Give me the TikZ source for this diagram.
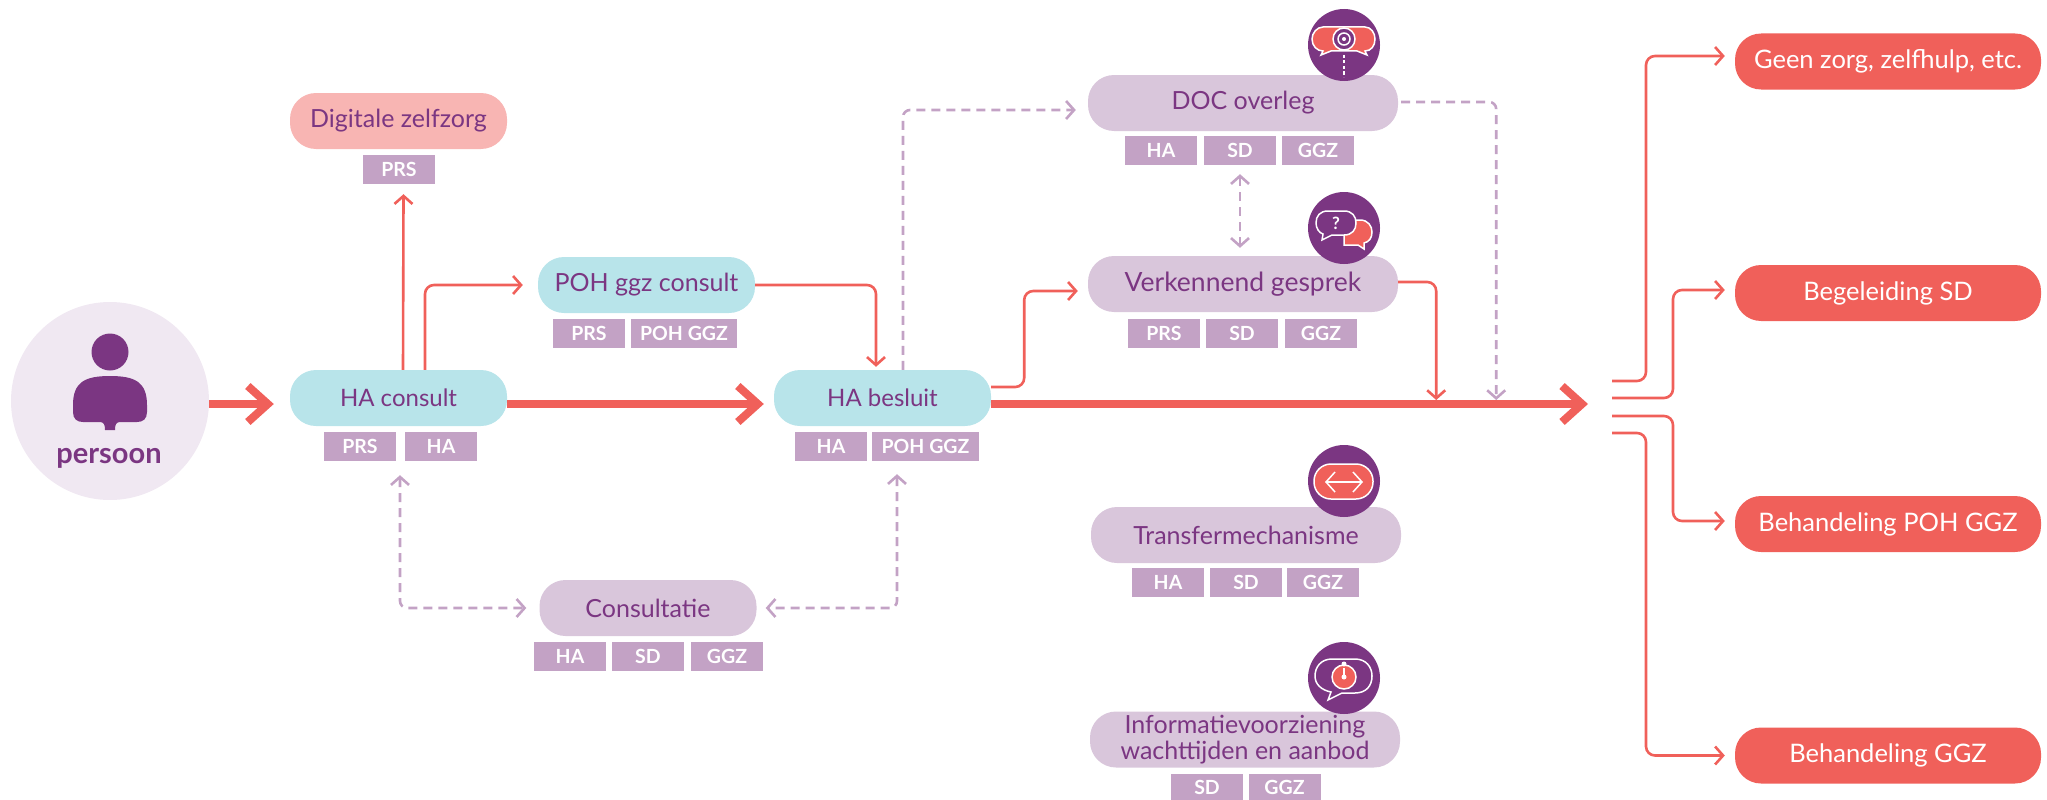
\documentclass[tikz,border=0pt]{standalone}
\usepackage{fontspec}
\setmainfont{Lato}
\usetikzlibrary{arrows.meta}
\definecolor{coral}{HTML}{F0605A}
\definecolor{plum}{HTML}{7B3682}
\definecolor{tagc}{HTML}{C3A2C5}
\definecolor{lilac}{HTML}{D9C6DB}
\definecolor{teal1}{HTML}{B8E4EA}
\definecolor{pale}{HTML}{F0E8F2}
\definecolor{pink1}{HTML}{F8B5B3}
\tikzset{
  pill/.style={rectangle,rounded corners=26pt,inner sep=0pt,text=plum,align=center,font=\fontsize{25}{26}\selectfont},
  pillA/.style={pill,minimum width=217pt,minimum height=56pt},
  pillB/.style={pill,minimum width=310pt,minimum height=56pt,fill=lilac},
  endpill/.style={rectangle,rounded corners=26pt,inner sep=0pt,fill=coral,text=white,minimum width=306pt,minimum height=56pt,font=\fontsize{25.5}{26}\selectfont},
  tagbox/.style={rectangle,inner sep=0pt,fill=tagc,text=white,minimum height=29pt,minimum width=72pt,font=\bfseries\fontsize{19.5}{20}\selectfont},
  badge/.style={circle,inner sep=0pt,minimum size=72pt,fill=plum},
  thickarrow/.style={coral,line width=8pt,-{Straight Barb[length=20pt,width=36pt,line width=8pt]}},
  thinarrow/.style={coral,line width=2.6pt,rounded corners=9pt,-{Straight Barb[length=8pt,width=18pt,line width=2.6pt]}},
  dasharrow/.style={tagc,line width=2.6pt,rounded corners=7pt,dash pattern=on 9pt off 6pt,-{Straight Barb[length=8pt,width=18pt,line width=2.6pt]}},
  dashboth/.style={tagc,line width=2.6pt,rounded corners=7pt,dash pattern=on 9pt off 6pt,{Straight Barb[length=8pt,width=18pt,line width=2.6pt]}-{Straight Barb[length=8pt,width=18pt,line width=2.6pt]}},
  whiteline/.style={white,line width=1.5pt},
}
\begin{document}
\begin{tikzpicture}[x=1pt,y=-1pt]
\useasboundingbox (0,0) rectangle (2047,800);
% person
\node[circle,inner sep=0pt,minimum size=198pt,fill=pale] (person) at (110,401) {};
\fill[plum] (110,352) circle[radius=18.5pt];
\fill[plum] (110,376) .. controls (135,376) and (147,382) .. (147,405)
  -- (147,412) .. controls (147,419) and (143,422) .. (137,422)
  -- (120,422) .. controls (116,422) and (115,425) .. (115,430)
  -- (105,430) .. controls (105,425) and (104,422) .. (100,422)
  -- (83,422) .. controls (77,422) and (73,419) .. (73,412)
  -- (73,405) .. controls (73,382) and (85,376) .. (110,376) -- cycle;
\node[text=plum,font=\fontsize{29}{30}\selectfont\bfseries,inner sep=0pt] (persontext) at (109,458) {persoon};
% main nodes
\node[pillA,fill=teal1] (hac) at (398.5,398) {\fontsize{24}{26}\selectfont HA consult};
\node[tagbox] (t1a) at (360,446.5) {PRS};
\node[tagbox] (t1b) at (441,446.5) {HA};
\node[pillA,fill=pink1] (dz) at (398.5,121) {Digitale zelfzorg};
\node[tagbox] (t2a) at (399,169.5) {PRS};
\node[pillA,fill=teal1] (poh) at (646.5,285) {POH ggz consult};
\node[tagbox] (t3a) at (589,333.5) {PRS};
\node[tagbox,minimum width=106pt] (t3b) at (684,333.5) {POH GGZ};
\node[pillA,fill=teal1] (hab) at (882.5,398) {\fontsize{24}{26}\selectfont HA besluit};
\node[tagbox] (t4a) at (831,446.5) {HA};
\node[tagbox,minimum width=107pt] (t4b) at (925.5,446.5) {POH GGZ};
\node[pillA,fill=lilac] (con) at (648,608) {Consultatie};
\node[tagbox] (t5a) at (570,656.5) {HA};
\node[tagbox] (t5b) at (648,656.5) {SD};
\node[tagbox] (t5c) at (727,656.5) {GGZ};
\node[pillB] (doc) at (1243,103) {DOC overleg};
\node[tagbox] (t6a) at (1161,150.5) {HA};
\node[tagbox] (t6b) at (1240,150.5) {SD};
\node[tagbox] (t6c) at (1318,150.5) {GGZ};
\node[pillB] (ver) at (1243,284) {\fontsize{26.5}{28}\selectfont Verkennend gesprek};
\node[tagbox] (t7a) at (1164,333.5) {PRS};
\node[tagbox] (t7b) at (1242,333.5) {SD};
\node[tagbox] (t7c) at (1321,333.5) {GGZ};
\node[pillB] (tra) at (1246,535) {Transfermechanisme};
\node[tagbox] (t8a) at (1168,582.5) {HA};
\node[tagbox] (t8b) at (1246,582.5) {SD};
\node[tagbox] (t8c) at (1323,582.5) {GGZ};
\node[pillB] (inf) at (1245,739.5) {Informatievoorziening\\wachttijden en aanbod};
\node[tagbox,minimum height=26pt] (t9a) at (1207,787) {SD};
\node[tagbox,minimum height=26pt] (t9b) at (1284.5,787) {GGZ};
% end nodes
\node[endpill] (e1) at (1888,61.5) {Geen zorg, zelfhulp, etc.};
\node[endpill] (e2) at (1888,293) {Begeleiding SD};
\node[endpill] (e3) at (1888,524) {Behandeling POH GGZ};
\node[endpill] (e4) at (1888,755.5) {Behandeling GGZ};
\coordinate (fan) at (1612,404);
% thick flow
\draw[thickarrow] (person.east |- 0,404) -- ([xshift=-16pt,yshift=-6pt]hac.west);
\draw[thickarrow] ([yshift=-6pt]hac.east) -- ([xshift=-10pt,yshift=-6pt]hab.west);
\draw[thickarrow] ([yshift=-6pt]hab.east) -- ([xshift=-24pt]fan);
% thin flow
\draw[thinarrow] ([xshift=4.5pt]hac.north) -- ([xshift=4.5pt,yshift=-10pt]t2a.south);
\draw[thinarrow] ([xshift=26.5pt]hac.north) |- ([xshift=-15pt]poh.west);
\draw[thinarrow] (poh.east) -| ([xshift=-6.5pt,yshift=3pt]hab.north);
\draw[thinarrow] ([yshift=11pt]hab.east) -- ++(33,0) |- ([xshift=-10pt,yshift=-7pt]ver.west);
\draw[thinarrow] ([yshift=2pt]ver.east) -| ([xshift=38pt,yshift=-2pt]ver.east |- hab.east);
\draw[dasharrow] ([xshift=20.5pt]hab.north) |- ([xshift=-12pt,yshift=-7pt]doc.west);
\draw[dasharrow] ([xshift=3pt,yshift=1pt]doc.east) -| ([xshift=98pt,yshift=-2pt]doc.east |- hab.east);
\draw[dashboth] ([yshift=-9pt]t6b.south) -- ([yshift=8pt]ver.north -| t6b.south);
\draw[dashboth] ([xshift=40pt,yshift=-14pt]t1a.south) |- ([xshift=-13pt]con.west);
\draw[dashboth] ([xshift=-28.5pt,yshift=-13pt]t4b.south) |- ([xshift=9pt]con.east);
% fan out
\draw[thinarrow] ([yshift=23pt]fan) -- ++(34,0) |- ([xshift=-10pt,yshift=5.5pt]e1.west);
\draw[thinarrow] ([yshift=6pt]fan) -- ++(61,0) |- ([xshift=-10pt,yshift=3pt]e2.west);
\draw[thinarrow] ([yshift=-12pt]fan) -- ++(61,0) |- ([xshift=-10pt,yshift=3pt]e3.west);
\draw[thinarrow] ([yshift=-29pt]fan) -- ++(34,0) |- ([xshift=-10pt]e4.west);
% badges
\node[badge] (b1) at (1344,45) {};
\draw[whiteline,fill=coral] (1323,27) -- (1365,27) .. controls (1371,27) and (1375,33) .. (1375,39)
  .. controls (1375,46) and (1371,51) .. (1365,51) -- (1367,55) -- (1357,51) -- (1331,51) -- (1321,55) -- (1323,51)
  .. controls (1317,51) and (1312,46) .. (1312,39) .. controls (1312,33) and (1317,27) .. (1323,27) -- cycle;
\draw[whiteline,fill=plum] (1344,39) circle[radius=11pt];
\draw[whiteline] (1344,39) circle[radius=6pt];
\fill[white] (1344,39) circle[radius=2pt];
\draw[white,line width=1.5pt,dash pattern=on 3pt off 2.5pt] (1344,55) -- (1344,77);
\node[badge] (b2) at (1344,228) {};
\draw[whiteline,fill=coral] (1344,220) -- (1360,220) .. controls (1368,220) and (1372,226) .. (1372,232)
  .. controls (1372,238) and (1369,242) .. (1364,243) -- (1364,249) -- (1358,245) -- (1344,245) -- cycle;
\draw[whiteline,fill=plum] (1328,211) -- (1344,211) .. controls (1352,211) and (1356,216) .. (1356,223)
  .. controls (1356,230) and (1352,235) .. (1344,235) -- (1332,235) -- (1322,240) -- (1323,234)
  .. controls (1319,233) and (1316,228) .. (1316,223) .. controls (1316,216) and (1320,211) .. (1328,211) -- cycle;
\node[text=white,inner sep=0pt,font=\bfseries\fontsize{17}{18}\selectfont] (q) at (1336,223) {?};
\node[badge] (b3) at (1344,481) {};
\draw[whiteline,fill=coral,rounded corners=17pt] (1314,464) rectangle (1373,499);
\draw[white,line width=1.5pt,{Straight Barb[length=9pt,width=20pt,line width=1.5pt]}-{Straight Barb[length=9pt,width=20pt,line width=1.5pt]}] (1325,482) -- (1363,482);
\node[badge] (b4) at (1344,678) {};
\draw[whiteline] (1332,659) -- (1355,659) .. controls (1366,659) and (1372,667) .. (1372,676)
  .. controls (1372,686) and (1366,693) .. (1355,693) -- (1342,693) -- (1328,700) -- (1331,692)
  .. controls (1321,690) and (1315,684) .. (1315,676) .. controls (1315,667) and (1321,659) .. (1332,659) -- cycle;
\draw[whiteline,fill=coral] (1344,677) circle[radius=12pt];
\fill[white] (1344,664) circle[radius=2.5pt];
\draw[white,line width=1.2pt] (1344,668) -- (1344,677);
\fill[white] (1344,677) circle[radius=2.5pt];
\end{tikzpicture}
\end{document}
